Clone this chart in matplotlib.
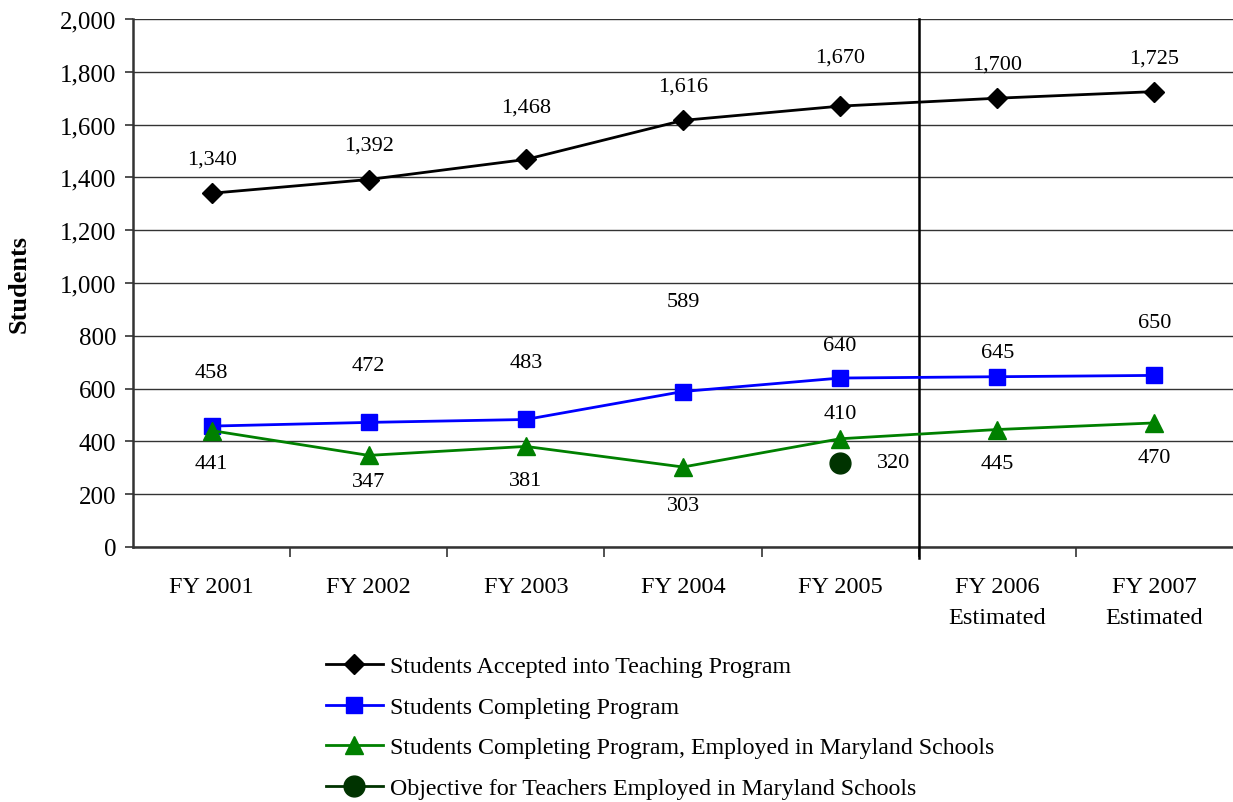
import matplotlib
matplotlib.use("Agg")
import matplotlib.pyplot as plt
from matplotlib.ticker import FuncFormatter, FixedLocator

plt.rcParams['font.family'] = ['Liberation Serif', 'DejaVu Serif']

categories = ["FY 2001", "FY 2002", "FY 2003", "FY 2004", "FY 2005",
              "FY 2006\nEstimated", "FY 2007\nEstimated"]
accepted = [1340, 1392, 1468, 1616, 1670, 1700, 1725]
completing = [458, 472, 483, 589, 640, 645, 650]
employed = [441, 347, 381, 303, 410, 445, 470]
objective_idx = 4
objective_val = 320

# label offsets in pixels (positive = above)
acc_off = [34, 34, 52, 34, 49, 34, 34]
comp_off = [54, 57, 57, 90, 33, 24, 53]
emp_off = [-33, -26, -34, -38, 25, -34, -35]

W, H = 1233, 803
fig = plt.figure(figsize=(W / 100, H / 100), dpi=100)
ax = fig.add_axes([133 / W, 1 - 548 / H, 1 - 133 / W, (548 - 20) / H])

x = list(range(len(categories)))
px2pt = 72 / 100

ax.plot(x, accepted, color='black', lw=2, marker='D', ms=10, mfc='black', mec='black',
        label='Students Accepted into Teaching Program', zorder=4)
ax.plot(x, completing, color='#0000ff', lw=2, marker='s', ms=12, mfc='#0000ff', mec='#0000ff',
        label='Students Completing Program', zorder=4)
ax.plot(x, employed, color='#008000', lw=2, marker='^', ms=13, mfc='#008000', mec='#008000',
        label='Students Completing Program, Employed in Maryland Schools', zorder=4)
ax.plot([x[objective_idx]], [objective_val], color='#003300', lw=2, marker='o', ms=15,
        mfc='#003300', mec='#003300', linestyle='-',
        label='Objective for Teachers Employed in Maryland Schools', zorder=5)

fs = 16
for xi, v, o in zip(x, accepted, acc_off):
    ax.annotate(f"{v:,}", (xi, v), xytext=(0, o * px2pt), textcoords='offset points',
                ha='center', va='center', fontsize=fs)
for xi, v, o in zip(x, completing, comp_off):
    ax.annotate(f"{v:,}", (xi, v), xytext=(0, o * px2pt), textcoords='offset points',
                ha='center', va='center', fontsize=fs)
for xi, v, o in zip(x, employed, emp_off):
    ax.annotate(f"{v:,}", (xi, v), xytext=(0, o * px2pt), textcoords='offset points',
                ha='center', va='center', fontsize=fs)
ax.annotate(f"{objective_val:,}", (x[objective_idx], objective_val), xytext=(37 * px2pt, 0),
            textcoords='offset points', ha='left', va='center', fontsize=fs)

ax.set_xlim(-0.5, len(categories) - 0.5)
ax.set_ylim(0, 2000)
ax.set_yticks(range(0, 2001, 200))
ax.yaxis.set_major_formatter(FuncFormatter(lambda v, p: f"{int(v):,}"))
ax.tick_params(axis='y', labelsize=18, length=6, width=1.2, color='#333333', pad=6)

ax.set_xticks(x)
ax.set_xticklabels(categories, fontsize=17.5, linespacing=1.6)
ax.tick_params(axis='x', which='major', length=0, pad=21)
ax.xaxis.set_minor_locator(FixedLocator([i + 0.5 for i in x[:-1]]))
ax.tick_params(axis='x', which='minor', length=7, width=1.2, color='#333333')

ax.grid(axis='y', color='#333333', lw=1)
ax.set_axisbelow(True)
for s in ['top', 'right']:
    ax.spines[s].set_visible(False)
ax.spines['left'].set_color('#333333')
ax.spines['left'].set_linewidth(1.8)
ax.spines['bottom'].set_color('#333333')
ax.spines['bottom'].set_linewidth(1.8)

ax.axvline(4.5, ymin=-0.02, ymax=1, color='black', lw=1.8, clip_on=False, zorder=3)

ax.set_ylabel("Students", fontsize=19, fontweight='bold', labelpad=21)

leg = fig.legend(loc='upper left', bbox_to_anchor=(316 / W, 1 - 647 / H), frameon=False,
                 fontsize=17.2, handlelength=2.4, handletextpad=0.3, labelspacing=0.79,
                 borderaxespad=0)

fig.savefig("out.png", dpi=100)
